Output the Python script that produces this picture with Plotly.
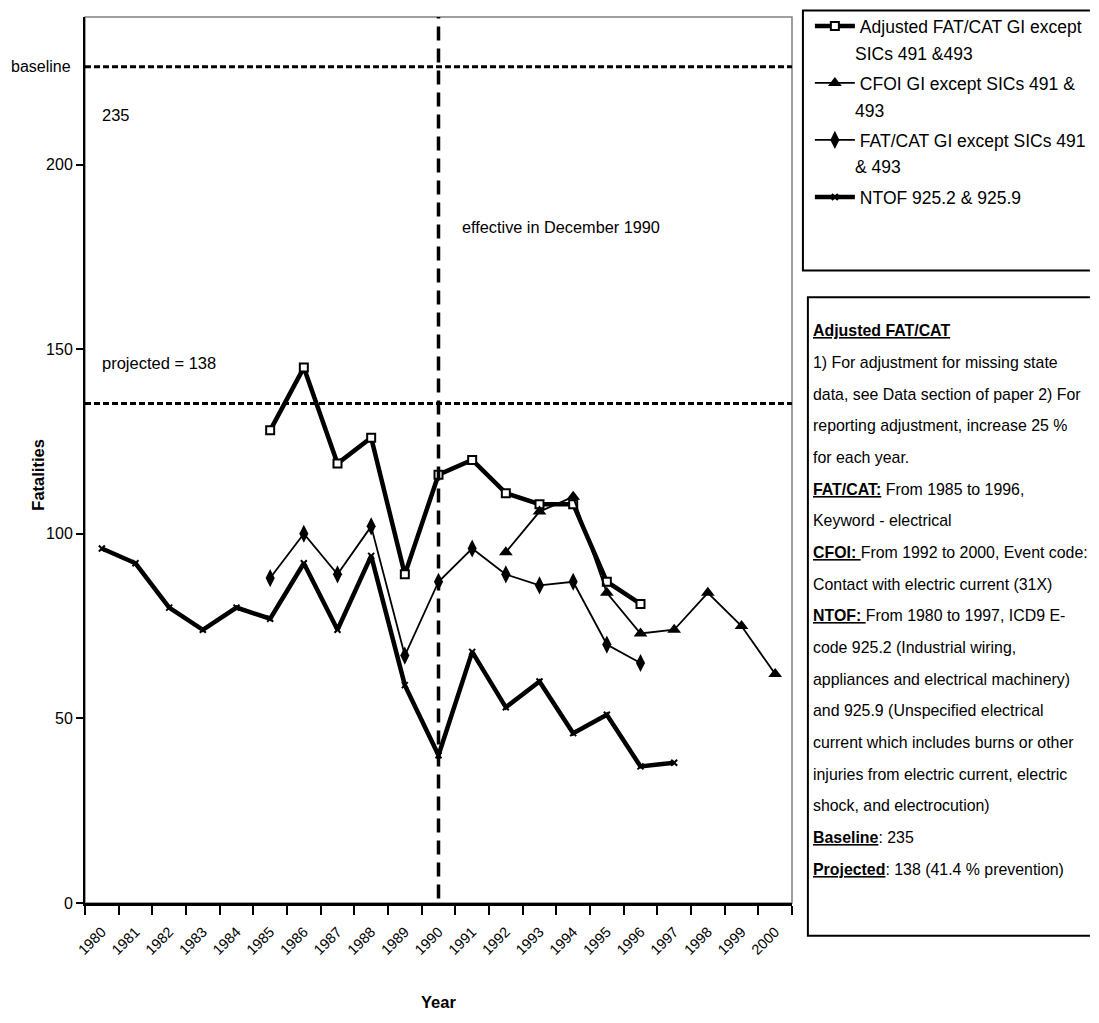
import plotly.graph_objects as go

# ---------------- data ----------------
adj_years = [1985, 1986, 1987, 1988, 1989, 1990, 1991, 1992, 1993, 1994, 1995, 1996]
adj_vals = [128, 145, 119, 126, 89, 116, 120, 111, 108, 108, 87, 81]

cfoi_years = [1992, 1993, 1994, 1995, 1996, 1997, 1998, 1999, 2000]
cfoi_vals = [95, 106, 110, 84, 73, 74, 84, 75, 62]

fatcat_years = [1985, 1986, 1987, 1988, 1989, 1990, 1991, 1992, 1993, 1994, 1995, 1996]
fatcat_vals = [88, 100, 89, 102, 67, 87, 96, 89, 86, 87, 70, 65]

ntof_years = list(range(1980, 1998))
ntof_vals = [96, 92, 80, 74, 80, 77, 92, 74, 94, 59, 40, 68, 53, 60, 46, 51, 37, 38]

year_labels = [str(y) for y in range(1980, 2001)]
y_ticks = [0, 50, 100, 150, 200]

baseline_level = 226.5
projected_level = 135.3
policy_year = 1990

# legend entries, wrapped as in the reference legend box:
# first line is the legend entry text, the second line continues below it
legend_first = [
    "Adjusted FAT/CAT GI except",
    "CFOI GI except SICs 491 &",
    "FAT/CAT GI except SICs 491",
    "NTOF 925.2 & 925.9",
]
legend_second = ["SICs 491 &493", "493", "& 493", ""]

note_lines = [
    "<b><u>Adjusted FAT/CAT</u></b>",
    "1) For adjustment for missing state",
    "data, see Data section of paper 2) For",
    "reporting adjustment, increase 25 %",
    "for each year.",
    "<b><u>FAT/CAT:</u></b> From 1985 to 1996,",
    "Keyword - electrical",
    "<b><u>CFOI: </u></b>From 1992 to 2000, Event code:",
    "Contact with electric current (31X)",
    "<b><u>NTOF: </u></b>From 1980 to 1997, ICD9 E-",
    "code 925.2 (Industrial wiring,",
    "appliances and electrical machinery)",
    "and 925.9 (Unspecified electrical",
    "current which includes burns or other",
    "injuries from electric current, electric",
    "shock, and electrocution)",
    "<b><u>Baseline</u></b>: 235",
    "<b><u>Projected</u></b>: 138 (41.4 % prevention)",
]

# ---------------- layout geometry ----------------
# page is 1099x1023; the browser's default 8px body margin is kept,
# so the figure itself is 16px smaller and sits at (8, 8).
PAGE_W, PAGE_H, OFF = 1099, 1023, 8
W, H = PAGE_W - 2 * OFF, PAGE_H - 2 * OFF
L, R, T, B = 85, 797, 8, 903          # plot area in page pixels
FONT = "Liberation Sans, Arial, sans-serif"
LEG_FS = 17.5
NOTE_FS = 15.9
LEG_X, LEG_TEXT_X, LEG_Y0, LEG_STEP = 815, 858, 17, 28.5


def px(x):  # page x -> paper fraction
    return (x - L) / (R - L)


def py(y):  # page y -> paper fraction
    return (B - y) / (B - T)


fig = go.Figure()
fig.add_trace(go.Scatter(
    x=adj_years, y=adj_vals, name=legend_first[0], mode="lines+markers",
    line=dict(color="black", width=4.5),
    marker=dict(symbol="square", size=8, color="white", line=dict(color="black", width=2)),
    legendgroup="a",
))
fig.add_trace(go.Scatter(
    x=cfoi_years, y=cfoi_vals, name=legend_first[1], mode="lines+markers",
    line=dict(color="black", width=1.8),
    marker=dict(symbol="triangle-up", size=12, color="black"),
    legendgroup="b",
))
fig.add_trace(go.Scatter(
    x=fatcat_years, y=fatcat_vals, name=legend_first[2], mode="lines+markers",
    line=dict(color="black", width=1.8),
    marker=dict(symbol="diamond-tall", size=13, color="black"),
    legendgroup="c",
))
fig.add_trace(go.Scatter(
    x=ntof_years, y=ntof_vals, name=legend_first[3], mode="lines+markers",
    line=dict(color="black", width=4.5),
    marker=dict(symbol="x-thin", size=6, color="black", line=dict(color="black", width=2)),
    legendgroup="d",
))


def open_box(x0, y0, y1):
    xe = px(PAGE_W - 2)
    path = f"M {xe},{py(y0)} L {px(x0)},{py(y0)} L {px(x0)},{py(y1)} L {xe},{py(y1)}"
    return dict(type="path", xref="paper", yref="paper", path=path,
                line=dict(color="black", width=2))


shapes = [
    dict(type="rect", xref="paper", yref="paper", x0=0, x1=1, y0=0, y1=1,
         line=dict(color="#808080", width=1.5), layer="below"),
    dict(type="line", xref="paper", yref="y", x0=0, x1=1, y0=baseline_level, y1=baseline_level,
         line=dict(color="black", width=3, dash="6px,3px")),
    dict(type="line", xref="paper", yref="y", x0=0, x1=1, y0=projected_level, y1=projected_level,
         line=dict(color="black", width=3, dash="6px,3px")),
    dict(type="line", xref="x", yref="paper", x0=policy_year, x1=policy_year, y0=0.005, y1=1,
         line=dict(color="black", width=3.5, dash="14px,8px")),
    open_box(808, 1.5, 264),
    open_box(813, 291, 936),
]

annotations = [
    dict(text="baseline", xref="paper", yref="y", x=px(73), y=baseline_level,
         xanchor="right", yanchor="middle", showarrow=False,
         font=dict(family=FONT, size=16, color="black")),
    dict(text="235", xref="paper", yref="paper", x=px(100), y=py(107),
         xanchor="left", yanchor="middle", showarrow=False,
         font=dict(family=FONT, size=16.5, color="black")),
    dict(text="projected = 138", xref="paper", yref="paper", x=px(100), y=py(358),
         xanchor="left", yanchor="middle", showarrow=False,
         font=dict(family=FONT, size=16.5, color="black")),
    dict(text="effective in December 1990", xref="paper", yref="paper", x=px(463), y=py(220),
         xanchor="left", yanchor="middle", showarrow=False,
         font=dict(family=FONT, size=16.3, color="black")),
    dict(text="<b>Fatalities</b>", xref="paper", yref="paper", x=px(38), y=py(470),
         xanchor="center", yanchor="middle", textangle=-90, showarrow=False,
         font=dict(family=FONT, size=16.5, color="black")),
    dict(text="<b>Year</b>", xref="paper", yref="paper", x=px(441), y=py(1003),
         xanchor="center", yanchor="middle", showarrow=False,
         font=dict(family=FONT, size=16.5, color="black")),
]

for i, txt in enumerate(legend_second):
    if txt:
        annotations.append(dict(
            text=txt, xref="paper", yref="paper", x=px(LEG_TEXT_X),
            y=py(LEG_Y0 + LEG_STEP * (2 * i + 1)),
            xanchor="left", yanchor="middle", showarrow=False,
            font=dict(family=FONT, size=LEG_FS, color="black"),
        ))

for i, line in enumerate(note_lines):
    annotations.append(dict(
        text=line, xref="paper", yref="paper", x=px(816), y=py(325 + 32 * i),
        xanchor="left", yanchor="middle", showarrow=False, align="left",
        font=dict(family=FONT, size=NOTE_FS, color="black"),
    ))

fig.update_layout(
    width=W, height=H,
    margin=dict(l=L - OFF, r=(OFF + W) - R, t=T - OFF, b=(OFF + H) - B, pad=0),
    plot_bgcolor="white", paper_bgcolor="white",
    showlegend=True,
    legend=dict(
        x=px(LEG_X), y=py(LEG_Y0 - 18), xanchor="left", yanchor="top",
        font=dict(family=FONT, size=LEG_FS, color="black"),
        bgcolor="rgba(0,0,0,0)", borderwidth=0,
        itemwidth=40, valign="middle",
        tracegroupgap=2 * LEG_STEP - (1.3 * LEG_FS + 3),
        traceorder="grouped",
    ),
    shapes=shapes,
    annotations=annotations,
)

fig.update_xaxes(
    range=[1979.5, 2000.5],
    tickmode="array", tickvals=list(range(1980, 2001)), ticktext=year_labels,
    tickangle=-45, ticks="", ticklabelstandoff=12,
    tickfont=dict(family=FONT, size=14.5, color="black"),
    showgrid=False, zeroline=False,
    showline=True, linecolor="black", linewidth=2.5,
    minor=dict(tickmode="array", tickvals=[y + 0.5 for y in range(1979, 2001)],
               ticks="outside", ticklen=9, tickwidth=1.5, tickcolor="black", showgrid=False),
)
fig.update_yaxes(
    range=[0, (B - T) / ((B - 157) / 200)],
    tickmode="array", tickvals=y_ticks, ticktext=[str(v) for v in y_ticks],
    ticks="outside", ticklen=7, tickwidth=1.5, tickcolor="black",
    tickfont=dict(family=FONT, size=16, color="black"),
    showgrid=False, zeroline=False,
    showline=True, linecolor="black", linewidth=2,
)

fig.write_html("out.html", config={"displayModeBar": False})
